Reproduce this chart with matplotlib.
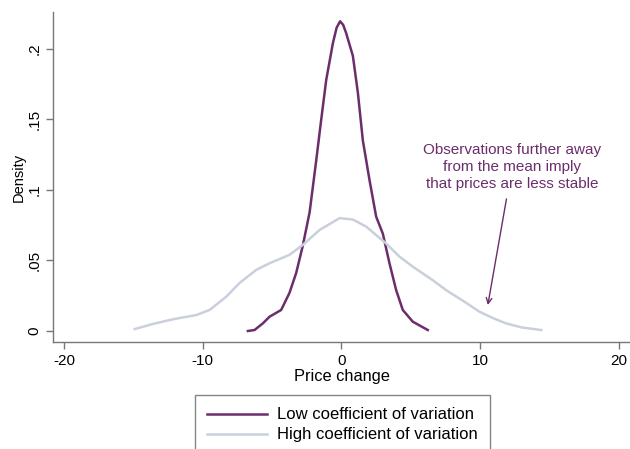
import matplotlib
matplotlib.use("Agg")
import matplotlib.pyplot as plt

plt.rcParams['font.family'] = ['Liberation Sans', 'DejaVu Sans']

# low coefficient of variation
low_x = [-6.75, -6.27, -5.67, -5.19, -4.35, -3.75, -3.27, -2.8, -2.3, -1.82,
         -1.46, -1.1, -0.62, -0.35, -0.1, 0.12, 0.34, 0.82, 1.18, 1.54, 2.02, 2.5,
         2.98, 3.46, 3.94, 4.42, 5.14, 6.22]
low_y = [0.000, 0.0007, 0.0054, 0.0101, 0.0149, 0.027, 0.041, 0.060, 0.084, 0.121,
         0.150, 0.178, 0.204, 0.215, 0.2195, 0.217, 0.211, 0.195, 0.169, 0.135, 0.107, 0.081,
         0.069, 0.048, 0.029, 0.0149, 0.0066, 0.0007]

# high coefficient of variation
high_x = [-14.9, -13.6, -12.15, -10.47, -9.51, -8.31, -7.35, -6.15, -5.19, -3.75,
          -2.79, -1.58, -0.14, 0.82, 1.78, 3.22, 4.18, 5.14, 6.58, 7.54,
          8.98, 9.94, 11.0, 11.87, 13.0, 14.4]
high_y = [0.0014, 0.005, 0.0083, 0.0113, 0.0149, 0.0243, 0.034, 0.0433, 0.048, 0.054,
          0.061, 0.0716, 0.080, 0.079, 0.074, 0.062, 0.0527, 0.0456, 0.036, 0.029,
          0.020, 0.0137, 0.0088, 0.0054, 0.0025, 0.0007]

xticks = [-20, -10, 0, 10, 20]
yticks = [0, 0.05, 0.1, 0.15, 0.2]
ylabels = ['0', '.05', '.1', '.15', '.2']

purple = '#6b2d6b'
light = '#c9d0dc'

fig = plt.figure(figsize=(6.3, 4.49), dpi=100)
ax = fig.add_axes([0.0841, 0.2383, 0.9159, 0.7347])

ax.plot(low_x, low_y, color=purple, lw=1.8, label='Low coefficient of variation')
ax.plot(high_x, high_y, color=light, lw=1.8, label='High coefficient of variation')

ax.set_xlim(-20.8, 20.8)
ax.set_ylim(-0.0078, 0.226)
ax.set_xticks(xticks)
ax.set_xticklabels([str(t) for t in xticks])
ax.set_yticks(yticks)
ax.set_yticklabels(ylabels, rotation=90, va='center')

for s in ['top', 'right']:
    ax.spines[s].set_visible(False)
for s in ['left', 'bottom']:
    ax.spines[s].set_color('#777777')
    ax.spines[s].set_linewidth(1.0)
ax.tick_params(colors='#777777', labelcolor='black', labelsize=11, length=5, width=1)

ax.set_xlabel('Price change', fontsize=11.8, labelpad=1)
ax.set_ylabel('Density', fontsize=10.5, labelpad=1)

ax.annotate('Observations further away\nfrom the mean imply\nthat prices are less stable',
            xy=(10.55, 0.0184), xytext=(12.3, 0.1163),
            ha='center', va='center', fontsize=11, color=purple, linespacing=1.25,
            arrowprops=dict(arrowstyle='->', color=purple, lw=1.0,
                            shrinkA=4, shrinkB=0, mutation_scale=10))

leg = fig.legend(loc='upper center', bbox_to_anchor=(0.5437, 0.1203), ncol=1,
                 fontsize=12, frameon=True, fancybox=False, handlelength=3.6,
                 handletextpad=0.6, borderpad=0.75, labelspacing=0.3,
                 borderaxespad=0)
leg.get_frame().set_edgecolor('#666666')
leg.get_frame().set_linewidth(1.0)

fig.savefig('out.png', dpi=100)
